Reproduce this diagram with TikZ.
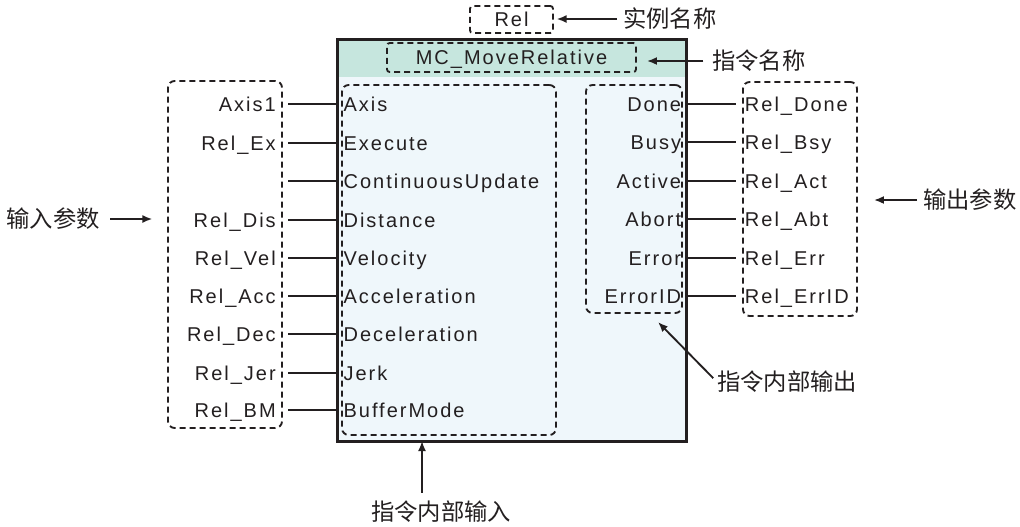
\documentclass[tikz,border=0pt]{standalone}
\usepackage{fontspec}
\setmainfont{Liberation Sans}[LetterSpace=10]
\newfontfamily\cjk{Noto Sans CJK SC}
\usepackage{xcolor}
\usepackage{tikz}
\usetikzlibrary{positioning,fit,calc,arrows.meta}

\definecolor{headc}{RGB}{198,230,222}
\definecolor{bodyc}{RGB}{239,247,251}
\definecolor{ink}{RGB}{35,31,32}

\tikzset{
  dbox/.style={draw=ink, line width=1.4pt, dash pattern=on 4.5pt off 3pt, rounded corners=5pt, inner sep=0pt},
  wire/.style={draw=ink, line width=1.4pt},
  ptr/.style={draw=ink, line width=1.4pt, -{Latex[length=7.5pt,width=6pt]}},
  inv/.style={anchor=east, inner xsep=9pt, inner ysep=0pt, text height=10.7pt, text depth=0pt},
  inp/.style={anchor=west, inner xsep=4pt, inner ysep=0pt, text height=10.7pt, text depth=0pt},
  outp/.style={anchor=east, inner xsep=3.5pt, inner ysep=0pt, text height=10.7pt, text depth=0pt},
  outv/.style={anchor=west, inner xsep=6.5pt, inner ysep=0pt, text height=10.7pt, text depth=0pt},
  note/.style={font={\cjk\fontsize{17.5}{20}\selectfont}, inner sep=0pt}
}

\begin{document}
\begin{tikzpicture}[x=0.75pt, y=-0.75pt, font=\fontsize{15}{18}\selectfont, text=ink]
    \useasboundingbox (0,0) rectangle (1020,526);
    % Bloc
    \node[fit={(338,40) (686,441)}, fill=bodyc, inner sep=0pt] (blk) {};
    \fill[headc] (blk.north west) rectangle (blk.east |- 0,77);
    \draw[ink, line width=1.9pt] (blk.north west) rectangle (blk.south east);
    \node[dbox, rounded corners=2pt, fit={(387,43) (636,72)}] (namebox) {};
    \node[inner sep=0pt, text height=10.7pt, text depth=0pt] (name) at (namebox.center) {MC\_MoveRelative};
    \node[dbox, rounded corners=2pt, fit={(470,6) (553,33)}] (instbox) {};
    \node[inner sep=0pt, text height=10.7pt, text depth=0pt] (inst) at (instbox.center) {Rel};
    % Cadres
    \node[dbox, fit={(168,81) (282,428)}] (inbox) {};
    \node[dbox, fit={(342,85) (556,435)}] (pinbox) {};
    \node[dbox, fit={(586,85) (682,313)}] (poutbox) {};
    \node[dbox, fit={(743,82) (857,316)}] (outbox) {};
    % Entrees
    \node[inv] (in1) at (288,104) {Axis1};   \node[inp] (ip1) at (338,104) {Axis};
    \node[inv] (in2) at (288,143) {Rel\_Ex};  \node[inp] (ip2) at (338,143) {Execute};
    \node[inv] (in3) at (288,181) {};         \node[inp] (ip3) at (338,181) {ContinuousUpdate};
    \node[inv] (in4) at (288,220) {Rel\_Dis}; \node[inp] (ip4) at (338,220) {Distance};
    \node[inv] (in5) at (288,258) {Rel\_Vel}; \node[inp] (ip5) at (338,258) {Velocity};
    \node[inv] (in6) at (288,296) {Rel\_Acc}; \node[inp] (ip6) at (338,296) {Acceleration};
    \node[inv] (in7) at (288,334) {Rel\_Dec}; \node[inp] (ip7) at (338,334) {Deceleration};
    \node[inv] (in8) at (288,373) {Rel\_Jer}; \node[inp] (ip8) at (338,373) {Jerk};
    \node[inv] (in9) at (288,410) {Rel\_BM};  \node[inp] (ip9) at (338,410) {BufferMode};
    \draw[wire] (in1.east) -- (ip1.west);
    \draw[wire] (in2.east) -- (ip2.west);
    \draw[wire] (in3.east) -- (ip3.west);
    \draw[wire] (in4.east) -- (ip4.west);
    \draw[wire] (in5.east) -- (ip5.west);
    \draw[wire] (in6.east) -- (ip6.west);
    \draw[wire] (in7.east) -- (ip7.west);
    \draw[wire] (in8.east) -- (ip8.west);
    \draw[wire] (in9.east) -- (ip9.west);
    % Sorties
    \node[outp] (op1) at (686,104) {Done};    \node[outv] (ov1) at (736,104) {Rel\_Done};
    \node[outp] (op2) at (686,142) {Busy};    \node[outv] (ov2) at (736,142) {Rel\_Bsy};
    \node[outp] (op3) at (686,181) {Active};  \node[outv] (ov3) at (736,181) {Rel\_Act};
    \node[outp] (op4) at (686,219) {Abort};   \node[outv] (ov4) at (736,219) {Rel\_Abt};
    \node[outp] (op5) at (686,258) {Error};   \node[outv] (ov5) at (736,258) {Rel\_Err};
    \node[outp] (op6) at (686,296) {ErrorID}; \node[outv] (ov6) at (736,296) {Rel\_ErrID};
    \draw[wire] (op1.east) -- (ov1.west);
    \draw[wire] (op2.east) -- (ov2.west);
    \draw[wire] (op3.east) -- (ov3.west);
    \draw[wire] (op4.east) -- (ov4.west);
    \draw[wire] (op5.east) -- (ov5.west);
    \draw[wire] (op6.east) -- (ov6.west);
    % Legendes
    \node[note, anchor=west] (lblInst) at (623,19) {实例名称};
    \draw[ptr, shorten <=4.5pt, shorten >=2pt] (lblInst.west) -- (lblInst.west -| instbox.east);
    \node[note, anchor=west] (lblName) at (712,61) {指令名称};
    \draw[ptr, shorten <=6.5pt, shorten >=7.5pt] (lblName.west) -- (lblName.west -| namebox.east);
    \node[note, anchor=east] (lblIn) at (100,219) {输入参数};
    \draw[ptr, shorten <=7.5pt, shorten >=11pt] (lblIn.east) -- (lblIn.east -| inbox.west);
    \node[note, anchor=west] (lblOut) at (923,200) {输出参数};
    \draw[ptr, shorten <=4.5pt, shorten >=12pt] (lblOut.west) -- (lblOut.west -| outbox.east);
    \node[note, anchor=west] (lblPout) at (717,382) {指令内部输出};
    \coordinate (pouttip) at (658,322);
    \draw[ptr, shorten <=4pt] (lblPout.west) -- (pouttip);
    \node[note] (lblPin) at (441,512) {指令内部输入};
    \coordinate (pintip) at (422,441);
    \draw[ptr, shorten <=6pt] (lblPin.north -| pintip) -- (pintip);
\end{tikzpicture}
\end{document}
